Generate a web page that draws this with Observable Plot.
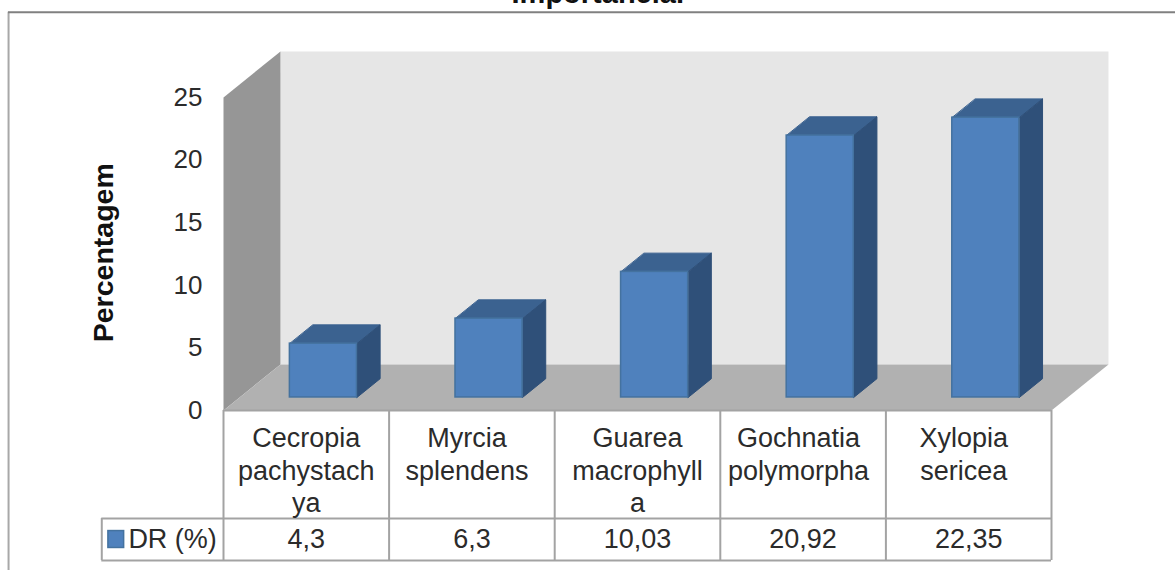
<!DOCTYPE html>
<html>
<head>
<meta charset="utf-8">
<script src="https://cdn.jsdelivr.net/npm/d3@7"></script>
<script src="https://cdn.jsdelivr.net/npm/@observablehq/plot@0.6"></script>
<style>
  html, body { margin: 0; padding: 0; background: #fff; overflow: hidden; }
  svg { display: block; }
</style>
</head>
<body>
<div id="chart"></div>
<script>
// Species and their relative density
const categories = ["Cecropia", "Myrcia", "Guarea", "Gochnatia", "Xylopia"];
const labelLines = [
  "Cecropia\npachystach\nya",
  "Myrcia\nsplendens",
  "Guarea\nmacrophyll\na",
  "Gochnatia\npolymorpha",
  "Xylopia\nsericea"
];
const labelNudge = [0, -0.03, 0, -0.028, -0.03];
const values = [4.3, 6.3, 10.03, 20.92, 22.35];
const valueLabels = ["4,3", "6,3", "10,03", "20,92", "22,35"];
const yTicks = [0, 5, 10, 15, 20, 25];
const seriesName = "DR (%)";

// Oblique projection: a full unit of depth shifts a point this far in scale units
const depthX = 0.344;
const depthY = 3.68;
const yMax = 25;
// Bars sit between these depths on the floor, and span this share of a category
const barNear = 0.283;
const barFar = 0.69;
const barWidth = 0.405;
const barShift = 0.006;
// Table rows below the plot, in y scale units
const rowHeader = -8.63;
const rowBottom = -11.98;
const legendLeft = -0.735;

const proj = (x, y, d) => ({x: x + d * depthX, y: y + d * depthY});
const poly = (id, pts) => pts.map((p) => ({id, ...p}));

const bars = values.map((v, i) => {
  const x0 = i + (1 - barWidth) / 2 + barShift;
  return {i, v, x0, x1: x0 + barWidth};
});

const frontFaces = bars.map((b) => ({
  x1: proj(b.x0, 0, barNear).x,
  x2: proj(b.x1, 0, barNear).x,
  y1: proj(b.x0, 0, barNear).y,
  y2: proj(b.x0, b.v, barNear).y
}));
const topFaces = bars.flatMap((b) => poly(b.i, [
  proj(b.x0, b.v, barNear), proj(b.x1, b.v, barNear),
  proj(b.x1, b.v, barFar), proj(b.x0, b.v, barFar)
]));
const sideFaces = bars.flatMap((b) => poly(b.i, [
  proj(b.x1, 0, barNear), proj(b.x1, 0, barFar),
  proj(b.x1, b.v, barFar), proj(b.x1, b.v, barNear)
]));

const n = categories.length;
const backWall = poly("back", [proj(0, 0, 1), proj(n, 0, 1), proj(n, yMax, 1), proj(0, yMax, 1)]);
const sideWall = poly("side", [proj(0, 0, 0), proj(0, 0, 1), proj(0, yMax, 1), proj(0, yMax, 0)]);
const floor = poly("floor", [proj(0, 0, 0), proj(n, 0, 0), proj(n, 0, 1), proj(0, 0, 1)]);

const font = "'Liberation Sans', Arial, sans-serif";
const ink = "#2b2b2b";
const grid = "#a3a3a3";
const tableSize = 27;

const plot = Plot.plot({
  width: 1175,
  height: 570,
  marginLeft: 204,
  marginRight: 0,
  marginTop: 0,
  marginBottom: 0,
  style: {fontFamily: font, background: "#fff"},
  x: {type: "linear", domain: [0, n], range: [223, 1051], axis: null},
  y: {type: "linear", domain: [0, yMax], range: [410, 97], axis: null},
  marks: [
    // Outer chart border (left and top edges)
    Plot.ruleX([-1.298], {y1: -12.9, y2: 31.8, stroke: "#a8a8a8", strokeWidth: 2}),
    Plot.ruleY([31.8], {x1: -1.298, x2: 5.75, stroke: "#808080", strokeWidth: 2}),

    // Walls and floor
    Plot.line(backWall, {x: "x", y: "y", z: "id", fill: "#e6e6e6"}),
    Plot.line(sideWall, {x: "x", y: "y", z: "id", fill: "#969696"}),
    Plot.line(floor, {x: "x", y: "y", z: "id", fill: "#b1b1b1"}),

    // Bars: top, side and front faces
    Plot.line(topFaces, {x: "x", y: "y", z: "id", fill: "#3b6290", stroke: "#3b6290", strokeWidth: 1, curve: "linear-closed"}),
    Plot.line(sideFaces, {x: "x", y: "y", z: "id", fill: "#2f5079", stroke: "#2f5079", strokeWidth: 1, curve: "linear-closed"}),
    Plot.rect(frontFaces, {x1: "x1", x2: "x2", y1: "y1", y2: "y2", fill: "#4f81bd", stroke: "#44729f", strokeWidth: 1.5}),

    // Data table grid
    Plot.ruleY([0], {x1: 0, x2: n, stroke: grid, strokeWidth: 2}),
    Plot.ruleY([rowHeader, rowBottom], {x1: legendLeft, x2: n, stroke: grid, strokeWidth: 2}),
    Plot.ruleX(d3.range(n + 1), {y1: 0, y2: rowBottom, stroke: grid, strokeWidth: 2}),
    Plot.ruleX([legendLeft], {y1: rowHeader, y2: rowBottom, stroke: grid, strokeWidth: 2}),

    // Table text
    Plot.text(labelLines, {
      x: (d, i) => i + 0.5 + labelNudge[i], y: 0, text: (d) => d, dy: 14,
      lineAnchor: "top", lineHeight: 32.3 / tableSize, fontSize: tableSize, fill: ink
    }),
    Plot.text(valueLabels, {
      x: (d, i) => i + 0.5, y: (rowHeader + rowBottom) / 2, text: (d) => d,
      fontSize: tableSize, fill: ink
    }),

    // Legend key inside the table
    Plot.rect([seriesName], {
      x1: legendLeft + 0.04, x2: legendLeft + 0.135,
      y1: rowHeader - 1, y2: rowBottom + 1,
      fill: "#4f81bd", stroke: "#44729f", strokeWidth: 1.5
    }),
    Plot.text([seriesName], {
      x: -0.04, y: (rowHeader + rowBottom) / 2, text: (d) => d,
      textAnchor: "end", fontSize: tableSize, fill: ink
    }),

    // Value axis
    Plot.axisY({
      ticks: yTicks, tickSize: 0, tickPadding: 2, fontSize: 26,
      fill: ink, label: null, tickFormat: (d) => d
    }),
    Plot.text(["Percentagem"], {
      x: -0.72, y: 12.6, text: (d) => d, rotate: -90,
      fontSize: 28.5, fontWeight: "bold", fill: "#111"
    }),

    // Chart title, running off the top edge
    Plot.text(["Importancia."], {
      x: 2.26, y: 32.55, text: (d) => d, lineAnchor: "bottom",
      fontSize: 29, fontWeight: "bold", fill: "#111"
    })
  ]
});

document.getElementById("chart").append(plot);
</script>
</body>
</html>
